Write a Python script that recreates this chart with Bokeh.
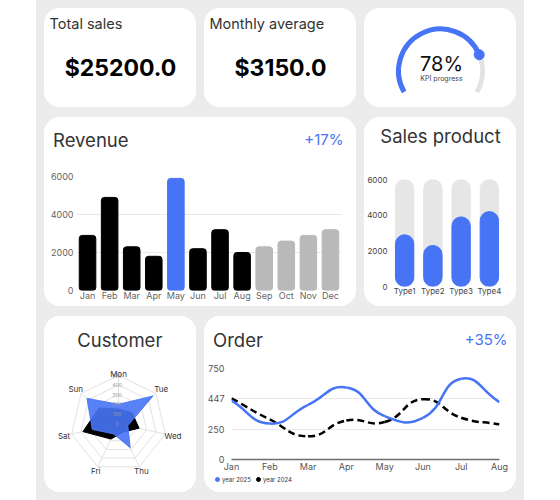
import numpy as np
from bokeh.plotting import figure
from bokeh.layouts import row, column
from bokeh.models import Range1d, FixedTicker, Label, Legend, LegendItem
from bokeh.core.properties import value
from bokeh.embed import file_html
from bokeh.resources import INLINE

FONT = "Inter"
BLUE = "#4674f5"
BLACK = "#000000"
GRAY_BAR = "#b9b9b9"
TRACK = "#e6e6e6"
TITLE_C = "#333333"
TICK_C = "#555555"

# ---------------- data ----------------
months = ["Jan", "Feb", "Mar", "Apr", "May", "Jun", "Jul", "Aug", "Sep", "Oct", "Nov", "Dec"]
revenue = [2900, 4900, 2300, 1800, 5900, 2200, 3200, 2000, 2300, 2600, 2900, 3200]
actual_months = 8
revenue_growth = "+17%"
revenue_ticks = [0, 2000, 4000, 6000]

products = ["Type1", "Type2", "Type3", "Type4"]
product_sales = [2900, 2300, 3900, 4200]
product_max = 6000
product_ticks = [0, 2000, 4000, 6000]

kpi_progress = 78

days = ["Mon", "Tue", "Wed", "Thu", "Fri", "Sat", "Sun"]
customers_2025 = [200, 460, 100, 280, 120, 280, 420]
customers_2024 = [150, 180, 220, 100, 180, 380, 260]
radar_levels = [0, 100, 200, 300, 400, 500]

order_months = ["Jan", "Feb", "Mar", "Apr", "May", "Jun", "Jul", "Aug"]
orders_2025 = [486, 296, 451, 594, 357, 344, 666, 473]
orders_2024 = [505, 330, 191, 322, 309, 497, 344, 290]
order_ticks = [0, 250, 500, 750]
order_tick_labels = ["0", "250", "447", "750"]
order_growth = "+35%"
series_names = ["year 2025", "year 2024"]

CARD_STYLE = {"background-color": "white", "border-radius": "16px", "overflow": "hidden"}
TITLE_SIZE = 18.5


# ---------------- helpers ----------------
def make_fig(w, h, x_range, y_range, mb=(0, 0, 0, 0), axes=False):
    l, r, t, b = mb
    kw = {} if axes else dict(x_axis_location=None, y_axis_location=None)
    p = figure(width=w, height=h, x_range=x_range, y_range=y_range,
               output_backend="svg", toolbar_location=None,
               min_border_left=l, min_border_right=r, min_border_top=t, min_border_bottom=b,
               outline_line_color=None, border_fill_color="white",
               background_fill_color="white", frame_align=False, **kw)
    if not axes:
        p.grid.visible = False
    return p


def pixel_fig(w, h):
    """Figure whose data units equal pixels, y measured upward from the bottom."""
    return make_fig(w, h, Range1d(0, w), Range1d(0, h))


def add_px_text(p, h, lx, ly, text, size, color=TITLE_C, align="left", style="normal"):
    p.add_layout(Label(x=lx, y=h - ly, text=text, text_font=FONT, text_font_size=f"{size}px",
                       text_color=color, text_align=align, text_baseline="middle",
                       text_font_style=style))


def style_axis(ax, size, color=TICK_C, standoff=2):
    ax.axis_line_color = None
    ax.major_tick_line_color = None
    ax.minor_tick_line_color = None
    ax.major_tick_out = 0
    ax.major_tick_in = 0
    ax.minor_tick_out = 0
    ax.minor_tick_in = 0
    ax.major_label_text_font = FONT
    ax.major_label_text_font_size = f"{size}px"
    ax.major_label_text_color = color
    ax.major_label_standoff = standoff


def card(*children):
    return column(*children, spacing=0, styles=CARD_STYLE)


# ---------------- top cards ----------------
total_sales = sum(revenue[:actual_months])
monthly_avg = total_sales / actual_months

W1, H1 = 152, 99
p1 = pixel_fig(W1, H1)
add_px_text(p1, H1, 5, 14.5, "Total sales", 14.5)
add_px_text(p1, H1, 76, 59, f"${total_sales:.1f}", 23, color="#000000", align="center", style="bold")

p2 = pixel_fig(W1, H1)
add_px_text(p2, H1, 5, 14.5, "Monthly average", 14.5)
add_px_text(p2, H1, 76, 59, f"${monthly_avg:.1f}", 23, color="#000000", align="center", style="bold")

# KPI gauge (1 data unit = 1 px), centre at (76, 62.5) from top-left
p3 = make_fig(W1, H1, Range1d(-76, 76), Range1d(-36.5, 62.5))
start_deg, sweep_deg = 210.0, 240.0
end_deg = start_deg - sweep_deg * kpi_progress / 100.0
R_g = 42
p3.arc(x=0, y=0, radius=R_g, start_angle=np.radians(start_deg - sweep_deg),
       end_angle=np.radians(end_deg), line_color="#e3e3e3", line_width=5)
p3.arc(x=0, y=0, radius=R_g, start_angle=np.radians(end_deg),
       end_angle=np.radians(start_deg), line_color=BLUE, line_width=5)
p3.scatter(x=[R_g * np.cos(np.radians(end_deg))], y=[R_g * np.sin(np.radians(end_deg))],
           size=10, color=BLUE)
p3.add_layout(Label(x=1, y=7, text=f"{kpi_progress}%", text_font=FONT, text_font_size="20px",
                    text_color="#111111", text_align="center", text_baseline="middle"))
p3.add_layout(Label(x=1, y=-7, text="KPI progress", text_font=FONT, text_font_size="7px",
                    text_color="#444444", text_align="center", text_baseline="middle"))

# ---------------- revenue ----------------
W4, HH = 312, 42
h4 = make_fig(W4, HH, Range1d(0, W4), Range1d(0, HH))
add_px_text(h4, HH, 8.5, 22, "Revenue", TITLE_SIZE)
add_px_text(h4, HH, 299, 22, revenue_growth, 15, color=BLUE, align="right")

p4 = make_fig(W4, 189 - HH, months, Range1d(0, 6000), mb=(32, 15, 17, 16), axes=True)
bar_colors = [BLUE if v == max(revenue[:actual_months]) else BLACK for v in revenue[:actual_months]]
bar_colors += [GRAY_BAR] * (len(months) - actual_months)
p4.vbar(x=months, top=revenue, width=0.75, color=bar_colors, border_radius=3)
p4.yaxis.ticker = FixedTicker(ticks=revenue_ticks)
p4.ygrid.ticker = FixedTicker(ticks=revenue_ticks)
p4.ygrid.grid_line_color = "#e8e8e8"
p4.xgrid.grid_line_color = None
style_axis(p4.yaxis[0], 9, "#666666", 3)
style_axis(p4.xaxis[0], 9, "#666666", -1)

# ---------------- sales product ----------------
W5 = 152
h5 = make_fig(W5, HH, Range1d(0, W5), Range1d(0, HH))
add_px_text(h5, HH, 76, 18, "Sales product", TITLE_SIZE, align="center")

p5 = make_fig(W5, 189 - HH, products, Range1d(0, product_max), mb=(24, 13, 20, 20), axes=True)
p5.vbar(x=products, top=[product_max] * len(products), width=0.65, color=TRACK, border_radius=9)
p5.vbar(x=products, top=product_sales, width=0.65, color=BLUE, border_radius=9)
p5.yaxis.ticker = FixedTicker(ticks=product_ticks)
p5.grid.grid_line_color = None
style_axis(p5.yaxis[0], 8, "#444444", 3)
style_axis(p5.xaxis[0], 8, "#444444", -1)

# ---------------- customer radar ----------------
W6, H6 = 152, 176
k = 48 / 500.0  # px per value unit
cx, cy = 74, 107
xr6 = (-cx / k, (W6 - cx) / k)
yr6 = (-(H6 - cy) / k, cy / k)
p6 = make_fig(W6, H6, Range1d(*xr6), Range1d(*yr6))
n = len(days)
th = np.arange(n) * 2 * np.pi / n
rmax = radar_levels[-1]
rings_x = [list(lv * np.sin(np.append(th, th[0]))) for lv in radar_levels[1:]]
rings_y = [list(lv * np.cos(np.append(th, th[0]))) for lv in radar_levels[1:]]
p6.multi_line(rings_x, rings_y, line_color="#e2e2e2", line_width=1)
p6.segment(x0=[0] * n, y0=[0] * n, x1=list(rmax * np.sin(th)), y1=list(rmax * np.cos(th)),
           line_color="#e2e2e2", line_width=1)
c24 = np.array(customers_2024, dtype=float)
c25 = np.array(customers_2025, dtype=float)
p6.patch(x=list(c24 * np.sin(th)), y=list(c24 * np.cos(th)), fill_color=BLACK, line_color=BLACK)
p6.patch(x=list(c25 * np.sin(th)), y=list(c25 * np.cos(th)), fill_color=BLUE, fill_alpha=0.9,
         line_color=BLUE, line_alpha=0.9)
p6.text(x=[-15] * len(radar_levels), y=radar_levels, text=[str(v) for v in radar_levels],
        text_font=value(FONT), text_font_size="5px", text_color="#9a9a9a",
        text_align="center", text_baseline="middle")
lab_r = (50 + 6 * np.abs(np.sin(th))) / k
p6.text(x=list(lab_r * np.sin(th)), y=list(lab_r * np.cos(th)), text=days,
        text_font=value(FONT), text_font_size="8px", text_color="#333333",
        text_align="center", text_baseline="middle")
p6.add_layout(Label(x=1.3 / k, y=(cy - 23) / k, text="Customer", text_font=FONT,
                    text_font_size=f"{TITLE_SIZE}px", text_color=TITLE_C, text_align="center",
                    text_baseline="middle"))

# ---------------- order ----------------
W7 = 312
HO = 40
h7 = make_fig(W7, HO, Range1d(0, W7), Range1d(0, HO))
add_px_text(h7, HO, 8.5, 23, "Order", TITLE_SIZE)
add_px_text(h7, HO, 303, 23, order_growth, 15, color=BLUE, align="right")

HC = 118
mb7 = (25, 17, 12, 13)
nx = len(order_months) - 1
p7 = make_fig(W7, HC, Range1d(0, nx), Range1d(0, 750), mb=mb7, axes=True)
p7.xaxis.ticker = FixedTicker(ticks=list(range(len(order_months))))
p7.xaxis.major_label_overrides = {i: m for i, m in enumerate(order_months)}
p7.yaxis.ticker = FixedTicker(ticks=order_ticks)
p7.yaxis.major_label_overrides = dict(zip(order_ticks, order_tick_labels))
p7.ygrid.ticker = FixedTicker(ticks=order_ticks)
p7.ygrid.grid_line_color = "#e8e8e8"
p7.xgrid.grid_line_color = None
style_axis(p7.yaxis[0], 9, TICK_C, 7)
style_axis(p7.xaxis[0], 9, TICK_C, 1)
p7.xaxis.axis_line_color = "#6e6e6e"
p7.xaxis.axis_line_width = 1.5

sx = (W7 - mb7[0] - mb7[1]) / nx
sy = (HC - mb7[2] - mb7[3]) / 750.0


def smooth_bezier(vals, smooth=0.5):
    """Bezier control points (ECharts-style smoothing) for a curve through the data points."""
    px = np.arange(len(vals)) * sx
    py = np.array(vals, dtype=float) * sy
    m = len(vals)
    cps = []
    for i in range(m):
        pi, ni = max(i - 1, 0), min(i + 1, m - 1)
        vx, vy = px[ni] - px[pi], py[ni] - py[pi]
        d0 = np.hypot(px[i] - px[pi], py[i] - py[pi])
        d1 = np.hypot(px[ni] - px[i], py[ni] - py[i])
        ratio = d1 / (d0 + d1) if (d0 + d1) > 0 else 0.5
        after = (px[i] + vx * smooth * ratio, py[i] + vy * smooth * ratio)
        before = (px[i] - vx * smooth * (1 - ratio), py[i] - vy * smooth * (1 - ratio))
        cps.append((before, after))
    out = dict(x0=[], y0=[], x1=[], y1=[], cx0=[], cy0=[], cx1=[], cy1=[])
    for i in range(m - 1):
        out["x0"].append(px[i] / sx); out["y0"].append(py[i] / sy)
        out["x1"].append(px[i + 1] / sx); out["y1"].append(py[i + 1] / sy)
        out["cx0"].append(cps[i][1][0] / sx); out["cy0"].append(cps[i][1][1] / sy)
        out["cx1"].append(cps[i + 1][0][0] / sx); out["cy1"].append(cps[i + 1][0][1] / sy)
    return out


p7.bezier(line_color=BLACK, line_width=2.5, line_dash="7 4", **smooth_bezier(orders_2024))
p7.bezier(line_color=BLUE, line_width=2.5, **smooth_bezier(orders_2025))

HF = 176 - HO - HC
f7 = make_fig(W7, HF, Range1d(0, W7), Range1d(0, HF))
# legend swatches: one point each, placed outside the visible range
r25 = f7.scatter(x=[-50], y=[-50], size=5, color=BLUE)
r24 = f7.scatter(x=[-50], y=[-50], size=5, color=BLACK)
legend = Legend(items=[LegendItem(label=series_names[0], renderers=[r25]),
                       LegendItem(label=series_names[1], renderers=[r24])],
                location=(8, HF - 10), orientation="horizontal",
                label_text_font=FONT, label_text_font_size="6px", label_text_color="#333333",
                glyph_width=10, glyph_height=10, label_height=10, label_standoff=0,
                spacing=2, padding=0, margin=0, border_line_color=None,
                background_fill_alpha=0)
f7.add_layout(legend)

# ---------------- layout ----------------
root = column(row(card(p1), card(p2), card(p3), spacing=8),
              row(card(h4, p4), card(h5, p5), spacing=8),
              row(card(p6), card(h7, p7, f7), spacing=8),
              spacing=10,
              styles={"background-color": "#ececec", "padding": "8px",
                      "margin-left": "36px"})

open("out.html", "w").write(file_html(root, INLINE))
